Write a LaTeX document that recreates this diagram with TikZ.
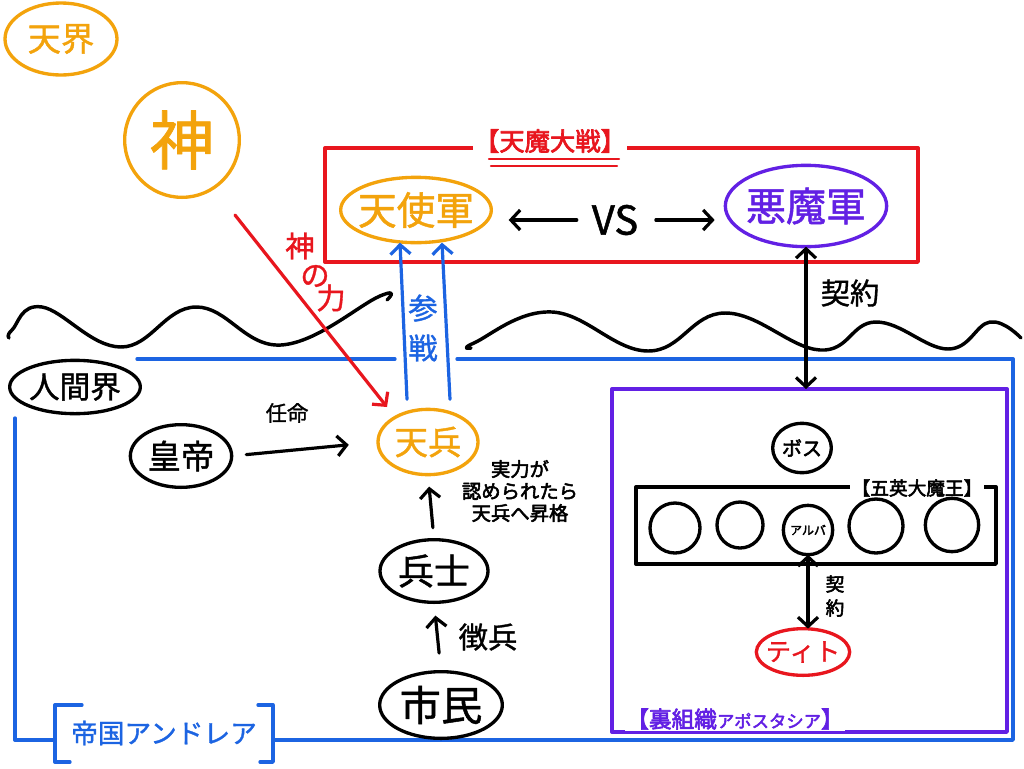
\documentclass[tikz,border=0pt]{standalone}
\usepackage{fontspec}
\newfontfamily\jp[FakeBold=1.2]{Noto Sans CJK JP}
\newfontfamily\jpb[FakeBold=2.8]{Noto Sans CJK JP}
\usetikzlibrary{shapes.geometric,arrows.meta,calc}
\definecolor{cOr}{RGB}{243,163,12}
\definecolor{cRed}{RGB}{232,22,30}
\definecolor{cBlue}{RGB}{28,100,226}
\definecolor{cPur}{RGB}{98,32,228}
\newcommand{\fsz}[1]{\fontsize{#1pt}{#1pt}\selectfont}
\begin{document}
\begin{tikzpicture}[x=0.75pt,y=-0.75pt,line width=2.5pt,line cap=round,line join=round,
  ell/.style={ellipse,draw=#1,text=#1,inner xsep=-7pt,inner ysep=-5pt,outer sep=0pt},
  arr/.style={-{Straight Barb[length=7pt,width=15pt]},line width=2.4pt},
  darr/.style={{Straight Barb[length=7pt,width=15pt]}-{Straight Barb[length=7pt,width=15pt]},line width=2.4pt},
  wave/.style={black,line width=2.6pt},
  frame/.style={draw,rectangle,inner sep=0pt,outer sep=0pt}]
\useasboundingbox[fill=white] (0,0) rectangle (1024,768);

% ---- heaven ----
\node[ell=cOr,minimum width=84pt,minimum height=54pt,font={\jp\fsz{25}}] (tenkai) at (61,39) {天界};
\node[ell=cOr,circle,minimum size=86pt,font={\jp\fsz{48}}] (kami) at (182,140) {神};

% red war box
\draw[cRed,line width=2.5pt] (325,148) rectangle (918,262);
\node[fill=white,text=cRed,font={\jpb\fsz{19}},inner sep=1pt] (taisen) at (550,141) {【天魔大戦】};
\draw[cRed,line width=1.8pt] (489,159) -- (619,159) (491,166) -- (617,166);

\node[ell=cOr,minimum width=113pt,minimum height=49pt,font={\jp\fsz{29}}] (tenshi) at (416,210) {天使軍};
\node[ell=cPur,minimum width=121pt,minimum height=61pt,font={\jp\fsz{30}}] (akuma) at (806,206) {悪魔軍};
\node[font={\jp\fsz{30}},inner sep=0pt] (vs) at (615,220) {VS};
\draw[arr,shorten <=10pt,shorten >=13pt] (vs.west) -- (vs.west -| tenshi.east);
\draw[arr,shorten <=12pt,shorten >=8pt] (vs.east) -- (vs.east -| akuma.west);

% waves
\draw[wave] plot[smooth,tension=0.7] coordinates {(9,338) (12,330) (42,307) (121,347) (196,307) (281,345) (380,296) (387,300)};
\draw[wave] plot[smooth,tension=0.7] coordinates {(471,348) (474,343) (552,312) (648,351) (725,313) (820,350) (876,322) (948,349) (990,322) (1021,338)};

% god's power
\node[text=cRed,font={\jp\fsz{22}},inner sep=0pt] (kp1) at (300,246) {神};
\node[text=cRed,font={\jp\fsz{22}},inner sep=0pt] (kp2) at (315,276) {の};
\node[text=cRed,font={\jp\fsz{22}},inner sep=0pt] (kp3) at (331,298) {力};

% ---- human world frame ----
\draw[cBlue,line width=2.5pt] (137,359) -- (395,359) (457,359) -- (1013,359) -- (1013,740) -- (273,740)
  (55,740) -- (15,740) -- (15,418);
\node[text=cBlue,font={\jp\fsz{20}},inner sep=0pt] (teikoku) at (164,733) {帝国アンドレア};
\draw[cBlue,line width=2.5pt] (82,705) -- (55,705) -- (55,762) -- (70,762)
  (258,705) -- (273,705) -- (273,762) -- (260,762);

\node[ell=black,minimum width=98pt,minimum height=40pt,font={\jp\fsz{23}}] (ningen) at (75,387) {人間界};
\node[ell=black,minimum width=76pt,minimum height=47pt,font={\jp\fsz{25}}] (koutei) at (181,456) {皇帝};
\node[ell=cOr,minimum width=75pt,minimum height=49pt,font={\jp\fsz{25}}] (tenpei) at (428,442) {天兵};
\node[ell=black,minimum width=81pt,minimum height=47pt,font={\jp\fsz{27}}] (heishi) at (434,571) {兵士};
\node[ell=black,minimum width=92pt,minimum height=50pt,font={\jp\fsz{31}}] (shimin) at (441,705) {市民};

\node[font={\jp\fsz{16}},inner sep=0pt] (ninmei) at (287,413) {任命};
\node[font={\jpb\fontsize{14.5pt}{16.5pt}\selectfont},align=center,inner sep=0pt] (shoukaku) at (520,491) {実力が\\認められたら\\天兵へ昇格};
\node[font={\jp\fsz{22}},inner sep=0pt] (chouhei) at (488,637) {徴兵};
\node[text=cBlue,font={\jp\fontsize{22pt}{30pt}\selectfont},align=center,inner sep=0pt] (sansen) at (423,328) {参\\戦};

% connectors
\draw[cRed,arr] ($(kami)+(53,75)$) -- ($(tenpei)+(-41,-35)$);
\draw[cBlue,arr] ($(tenpei.north)+(-21,-10)$) -- ($(tenshi.south)+(-16,0)$);
\draw[cBlue,arr] ($(tenpei.north)+(22,-10)$) -- ($(tenshi.south)+(26,0)$);
\draw[arr,shorten <=11pt,shorten >=22pt] (koutei.east) -- (tenpei.west);
\draw[arr,shorten <=9pt,shorten >=9pt] (heishi.north) -- (tenpei.south);
\draw[arr,shorten <=14pt,shorten >=10pt] (shimin.north) -- (heishi.south);

% ---- underground organisation ----
\node[frame,draw=cPur,line width=2.5pt,minimum width=296.25pt,minimum height=257.25pt] (ura) at (809.5,560.5) {};
\node[fill=white,text=cPur,font={\jpb\fsz{17}},inner sep=1pt] (uralbl) at (735,719) {【裏組織{\fsz{13}アポスタシア}】};

\draw[darr] (akuma.south) -- (akuma.south |- ura.north);
\node[font={\jp\fsz{22}},inner sep=0pt] (keiyaku) at (850,293) {契約};

\node[ell=black,minimum width=44pt,minimum height=37pt,font={\jpb\fsz{15}}] (boss) at (802,448) {ボス};
\node[frame,line width=2.5pt,minimum width=270pt,minimum height=57.75pt] (goei) at (816,525.5) {};
\node[fill=white,font={\jpb\fsz{14}},inner sep=1pt] (goeilbl) at (917,488) {【五英大魔王】};

\node[ell=black,circle,minimum size=37.5pt] (c1) at (675,528) {};
\node[ell=black,circle,minimum size=34.5pt] (c2) at (740,525) {};
\node[ell=black,circle,minimum size=37pt,font={\jpb\fsz{9}}] (alba) at (808,530) {アルバ};
\node[ell=black,circle,minimum size=40.5pt] (c4) at (876,526) {};
\node[ell=black,circle,minimum size=40pt] (c5) at (952,525) {};

\node[ell=cRed,minimum width=70pt,minimum height=35pt,font={\jp\fsz{19}}] (tito) at (803,652) {ティト};
\draw[darr] (alba.south) -- (alba.south |- tito.north);
\node[font={\jpb\fontsize{14pt}{18pt}\selectfont},align=center,inner sep=0pt] (keiyaku2) at (835,596) {契\\約};
\end{tikzpicture}
\end{document}
